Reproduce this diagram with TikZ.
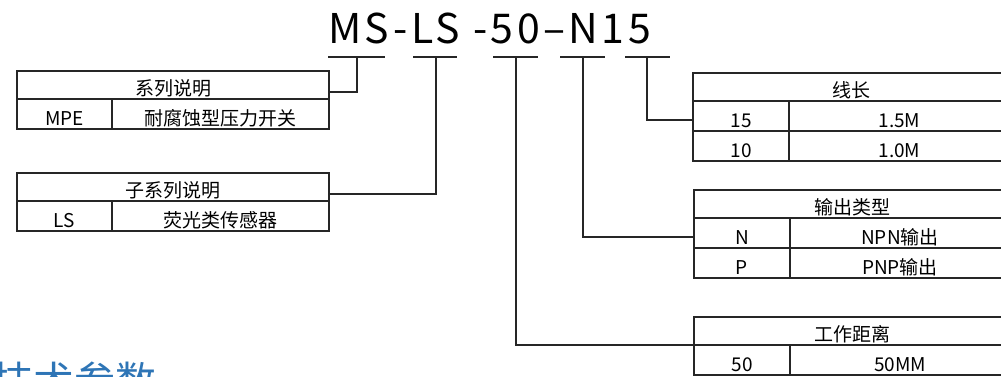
\documentclass[tikz,border=0pt]{standalone}
\usepackage{fontspec}
\setmainfont{Noto Sans CJK SC}
\newfontfamily\codefont[LetterSpace=8.5]{Noto Sans CJK SC}
\usepackage{tikz}
\usetikzlibrary{positioning}
\definecolor{mkink}{RGB}{38,38,38}
\definecolor{mkblue}{RGB}{46,117,182}

\begin{document}
\begin{tikzpicture}[
  x=1pt,y=-1pt,
  font=\fontsize{19}{19}\selectfont,
  cell/.style={draw=mkink,line width=1.3pt,inner sep=0pt,outer sep=0pt,anchor=north west,
               minimum height=30pt,text height=22pt,text depth=0pt},
  head/.style={cell,minimum height=28pt,text height=21pt},
  key/.style={cell,minimum width=95pt},
  link/.style={line width=1.3pt,mkink},
  node distance=0pt
]
  \useasboundingbox (0,0) rectangle (1001,376);
  \clip (0,0) rectangle (1001,376);
  \node[anchor=base west,inner sep=0pt,font=\codefont\fontsize{41}{41}\selectfont] (code) at (328,43) {MS-LS -50–N15};
  \coordinate (tap1) at (357,57);
  \coordinate (tap2) at (436,57);
  \coordinate (tap3) at (516,57);
  \coordinate (tap4) at (583,57);
  \coordinate (tap5) at (647,57);
  \foreach \t/\l/\r in {tap1/29/28,tap2/23/21,tap3/23/22,tap4/23/22,tap5/22/23}
    \draw[link] ([xshift=-\l pt]\t) -- ([xshift=\r pt]\t);

  \node[head,minimum width=312pt] (serhd) at (17,71) {系列说明};
  \node[key] (serkey) at (serhd.south west) {MPE};
  \node[cell,minimum width=217pt,right=of serkey] (serval) {耐腐蚀型压力开关};

  \node[head,minimum width=312pt] (subhd) at (17,173) {子系列说明};
  \node[key] (subkey) at (subhd.south west) {LS};
  \node[cell,minimum width=217pt,right=of subkey] (subval) {荧光类传感器};

  \node[head,minimum width=317pt] (lenhd) at (693,73) {线长};
  \node[key,minimum width=96pt] (lenkeyA) at (lenhd.south west) {15};
  \node[cell,minimum width=221pt,right=of lenkeyA] (lenvalA) {1.5M};
  \node[key,minimum width=96pt] (lenkeyB) at (lenkeyA.south west) {10};
  \node[cell,minimum width=221pt,right=of lenkeyB] (lenvalB) {1.0M};

  \node[head,minimum width=316pt] (outhd) at (694,190) {输出类型};
  \node[key,minimum width=96pt] (outkeyA) at (outhd.south west) {N};
  \node[cell,minimum width=220pt,right=of outkeyA] (outvalA) {NPN输出};
  \node[key,minimum width=96pt] (outkeyB) at (outkeyA.south west) {P};
  \node[cell,minimum width=220pt,right=of outkeyB] (outvalB) {PNP输出};

  \node[head,minimum width=316pt] (dsthd) at (694,317) {工作距离};
  \node[key,minimum width=96pt] (dstkey) at (dsthd.south west) {50};
  \node[cell,minimum width=220pt,right=of dstkey] (dstval) {50MM};

  \draw[link] (tap1) |- ([yshift=-7pt]serhd.east);
  \draw[link] (tap2) |- ([yshift=-7pt]subhd.east);
  \draw[link] (tap3) |- (dstkey.north west);
  \draw[link] (tap4) |- ([yshift=-4pt]outkeyA.west);
  \draw[link] (tap5) |- ([yshift=-4pt]lenkeyA.west);

  \node[anchor=base west,inner sep=0pt,text=mkblue,font=\fontsize{41}{41}\selectfont] (sect) at (-8,396) {技术参数};
\end{tikzpicture}
\end{document}
